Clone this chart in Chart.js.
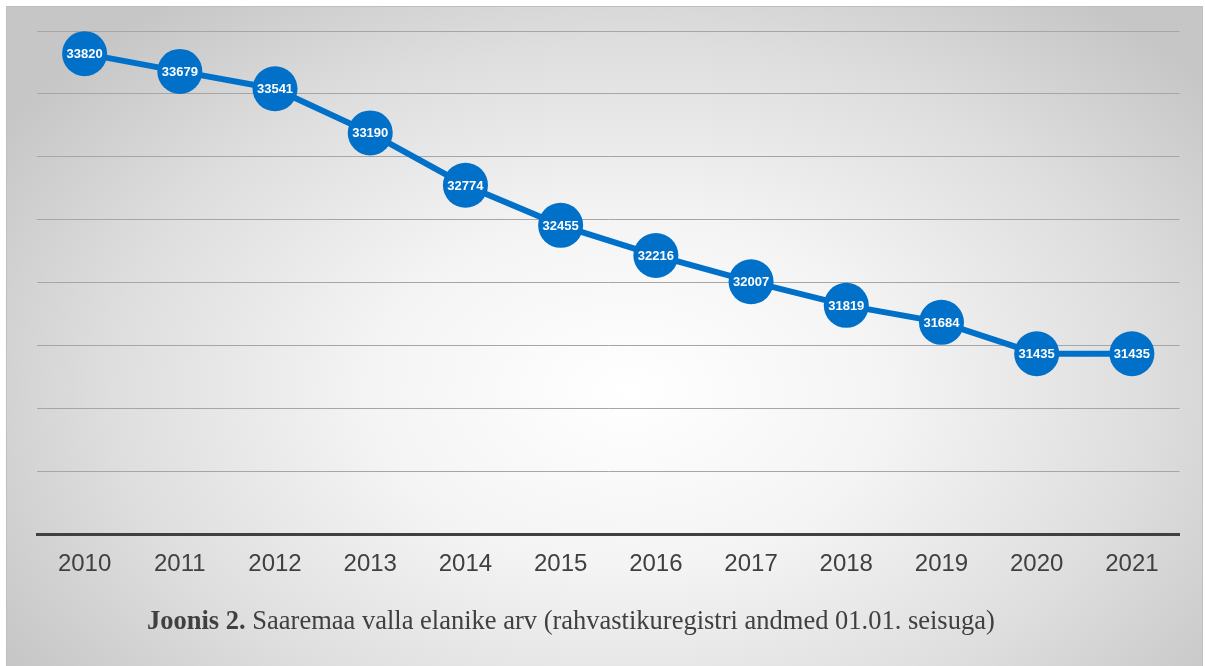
<!DOCTYPE html>
<html>
<head>
<meta charset="utf-8">
<script src="https://cdn.jsdelivr.net/npm/chart.js@4"></script>
<style>
  html, body { margin: 0; padding: 0; background: #fff; }
  #frame {
    position: absolute; left: 6px; top: 6px; width: 1195px; height: 662px;
    border: 1px solid #bfbfbf;
    background: radial-gradient(ellipse 62% 75% at 52% 58%, #ffffff 0%, #f4f4f4 35%, #dedede 70%, #c6c6c6 100%);
  }
  #wrap { position: absolute; left: 0; top: 0; width: 1195px; height: 600px; }
  #caption {
    position: absolute; left: 140px; top: 598px;
    font-family: "Liberation Serif", "Times New Roman", serif; font-size: 26.5px; color: #404040;
    white-space: nowrap;
  }
</style>
</head>
<body>
<div id="frame">
  <div id="wrap"><canvas id="popChart"></canvas></div>
  <div id="caption"><b>Joonis 2.</b> Saaremaa valla elanike arv (rahvastikuregistri andmed 01.01. seisuga)</div>
</div>
<script>
// Chart data
var years = ["2010", "2011", "2012", "2013", "2014", "2015", "2016", "2017", "2018", "2019", "2020", "2021"];
var residents = [33820, 33679, 33541, 33190, 32774, 32455, 32216, 32007, 31819, 31684, 31435, 31435];
var yMin = 30000;
var yMax = 34000;
var yStep = 500;

var blue = "#0070c8";

// Draw the value inside each point
var pointLabels = {
    id: "pointLabels",
    afterDatasetsDraw: function (chart) {
        var ctx = chart.ctx;
        var meta = chart.getDatasetMeta(0);
        ctx.save();
        ctx.font = "bold 13px 'Liberation Sans', Arial, sans-serif";
        ctx.fillStyle = "#ffffff";
        ctx.textAlign = "center";
        ctx.textBaseline = "middle";
        meta.data.forEach(function (pt, i) {
            ctx.fillText(String(chart.data.datasets[0].data[i]), pt.x, pt.y + 1);
        });
        ctx.restore();
    }
};

var ctx = document.getElementById("popChart").getContext("2d");
var chart = new Chart(ctx, {
    type: "line",
    data: {
        labels: years,
        datasets: [{
            label: "Elanike arv",
            data: residents,
            borderColor: blue,
            backgroundColor: blue,
            borderWidth: 6,
            tension: 0,
            pointRadius: 22.5,
            pointHoverRadius: 22.5,
            pointBackgroundColor: blue,
            pointBorderWidth: 0
        }]
    },
    options: {
        responsive: true,
        maintainAspectRatio: false,
        animation: false,
        layout: {
            padding: { top: 24, left: 30, right: 21, bottom: 12 }
        },
        plugins: {
            legend: { display: false },
            tooltip: { enabled: false }
        },
        scales: {
            x: {
                offset: true,
                grid: { display: false, drawTicks: false },
                border: { display: true, color: "#404040", width: 3 },
                ticks: {
                    color: "#404040",
                    padding: 16,
                    font: { size: 24, family: "'Liberation Sans', Arial, sans-serif" }
                }
            },
            y: {
                min: yMin,
                max: yMax,
                grid: { color: "#a6a6a6", lineWidth: 1, drawTicks: false, tickLength: 0 },
                border: { display: false },
                ticks: { display: false, stepSize: yStep }
            }
        }
    },
    plugins: [pointLabels]
});
</script>
</body>
</html>
